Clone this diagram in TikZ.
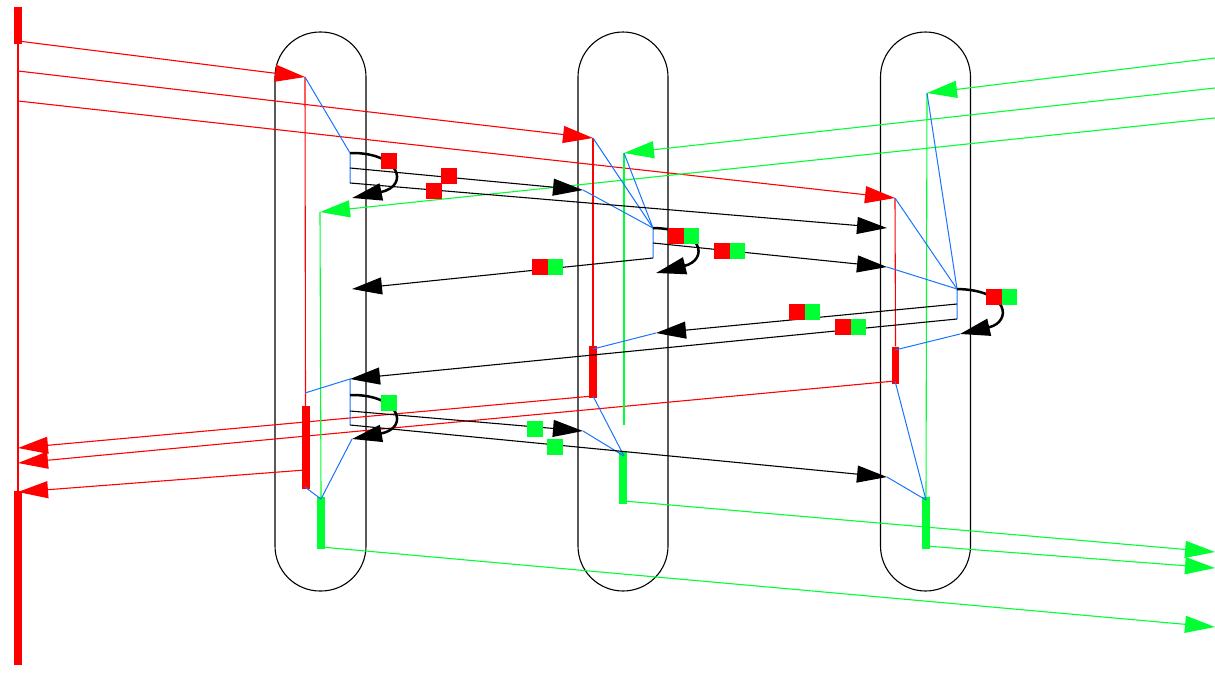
\documentclass[tikz,border=0pt]{standalone}
\usetikzlibrary{arrows.meta}
\definecolor{cred}{RGB}{255,0,0}
\definecolor{cgreen}{RGB}{0,255,51}
\definecolor{cblue}{RGB}{26,115,255}
\begin{document}
\begin{tikzpicture}[x=1pt,y=-1pt,
 arr/.style={-{Triangle[length=30pt,width=17pt]}},
 thinred/.style={cred, line width=1.1pt},
 thingreen/.style={cgreen, line width=1.1pt},
 blueline/.style={cblue, line width=1pt},
 msg/.style={black, line width=1.1pt},
 loopmsg/.style={black, line width=2.5pt},
 capsule/.style={draw=black, line width=1.1pt, rounded corners=45pt, minimum width=91pt, minimum height=559pt, inner sep=0},
 rbar/.style={fill=cred, inner sep=0, minimum width=8pt},
 gbar/.style={fill=cgreen, inner sep=0, minimum width=8pt},
 rsq/.style={fill=cred, inner sep=0, minimum size=15.5pt},
 gsq/.style={fill=cgreen, inner sep=0, minimum size=15.5pt}]
\useasboundingbox (0,0) rectangle (1215,672);

% capsules
\node[capsule] (cap1) at (320.5,311.5) {};
\node[capsule, minimum width=90pt] (cap2) at (623,311.5) {};
\node[capsule, minimum width=90pt] (cap3) at (925.5,311.5) {};

% coordinates
\coordinate (L0) at (18,8);
\coordinate (L1) at (18,665);
\coordinate (lo1) at (18,41);
\coordinate (lo2) at (18,71);
\coordinate (lo3) at (18,101);
\coordinate (li1) at (18,448);
\coordinate (li2) at (18,463);
\coordinate (li3) at (18,492);
\coordinate (gi1) at (1215,58);
\coordinate (gi2) at (1215,88);
\coordinate (gi3) at (1215,118);
\coordinate (go1) at (1215,552);
\coordinate (go2) at (1215,568);
\coordinate (go3) at (1215,627);

\coordinate (a1) at (305,77);
\coordinate (a2) at (320,212);
\coordinate (a3) at (350,153);
\coordinate (a4) at (350,168);
\coordinate (a5) at (350,183);
\coordinate (a5e) at (352,198);
\coordinate (a6) at (352,289);
\coordinate (a7) at (350,379);
\coordinate (a8) at (350,395);
\coordinate (a9) at (350,411);
\coordinate (a10) at (350,425);
\coordinate (a11) at (352,439);
\coordinate (ar1) at (305,393);
\coordinate (ar2) at (305,470);
\coordinate (ar3) at (305,487);
\coordinate (ag1) at (321,499);
\coordinate (ag2) at (321,547);

\coordinate (b1) at (593,138);
\coordinate (b2) at (624,153);
\coordinate (b2e) at (624,425);
\coordinate (b3) at (583,190);
\coordinate (b4) at (653,228);
\coordinate (b5) at (653,243);
\coordinate (b6) at (653,258);
\coordinate (b6e) at (656,273);
\coordinate (b7) at (656,333);
\coordinate (b8) at (583,431);
\coordinate (br1) at (593,349);
\coordinate (br2) at (593,396);
\coordinate (bg1) at (624,456);
\coordinate (bg2) at (624,501);

\coordinate (c1) at (895,198);
\coordinate (c2) at (927,93);
\coordinate (c4) at (887,267);
\coordinate (c3) at (887,228);
\coordinate (c5) at (957,289);
\coordinate (c6) at (957,304);
\coordinate (c7) at (957,319);
\coordinate (c8) at (960,334);
\coordinate (c9) at (887,477);
\coordinate (cr1) at (895,350);
\coordinate (cr2) at (895,381);
\coordinate (cg1) at (926,500);
\coordinate (cg2) at (926,546);

% bars
\node[rbar, minimum width=7.5pt, minimum height=37pt] (ltop) at (18,25.5) {};
\node[rbar, minimum width=7.5pt, minimum height=174pt] (lbot) at (18,578) {};
\node[rbar, minimum height=83pt] (ra) at (305.5,447.5) {};
\node[gbar, minimum height=52pt] (ga) at (321,523) {};
\node[rbar, minimum height=52pt] (rb) at (593,372) {};
\node[gbar, minimum height=52pt] (gb) at (623,478) {};
\node[rbar, minimum width=7pt, minimum height=37pt] (rc) at (895.5,365) {};
\node[gbar, minimum height=52pt] (gc) at (926,523) {};

% left lifeline
\draw[thinred] (L0) -- (L1);
\draw[thinred, arr] (lo1) -- (a1);
\draw[thinred, arr] (lo2) -- (b1);
\draw[thinred, arr] (lo3) -- (c1);
\draw[thinred, arr] (br2) -- (li1);
\draw[thinred, arr] (cr2) -- (li2);
\draw[thinred, arr] (ar2) -- (li3);

% green incoming / outgoing
\draw[thingreen, arr] (gi1) -- (c2);
\draw[thingreen, arr] (gi2) -- (b2);
\draw[thingreen, arr] (gi3) -- (a2);
\draw[thingreen, arr] (bg2) -- (go1);
\draw[thingreen, arr] (cg2) -- (go2);
\draw[thingreen, arr] (ag2) -- (go3);

% vertical thin lines
\draw[thinred] (a1) -- (ra.north);
\draw[thingreen] (a2) -- (ga.north);
\draw[thinred] (b1) -- (rb.north);
\draw[thingreen] (b2) -- (b2e);
\draw[thinred] (c1) -- (rc.north);
\draw[thingreen] (c2) -- (gc.north);

% blue lines
\draw[blueline] (a1) -- (a3) -- (a5);
\draw[blueline] (ar1) -- (a7) -- (a10);
\draw[blueline] (a11) -- (ag1);
\draw[blueline] (ar3) -- (ag1);
\draw[blueline] (b1) -- (b4);
\draw[blueline] (b2) -- (b4);
\draw[blueline] (b3) -- (b4) -- (b6);
\draw[blueline] (b7) -- (br1);
\draw[blueline] (br2) -- (bg1);
\draw[blueline] (b8) -- (bg1);
\draw[blueline] (c1) -- (c5);
\draw[blueline] (c2) -- (c5);
\draw[blueline] (c4) -- (c5) -- (c7);
\draw[blueline] (c8) -- (cr1);
\draw[blueline] (cr2) -- (cg1);
\draw[blueline] (c9) -- (cg1);

% messages
\draw[msg, arr] (a4) -- (b3);
\draw[msg, arr] (a5) -- (c3);
\draw[msg, arr] (b5) -- (c4);
\draw[msg, arr] (b6) -- (a6);
\draw[msg, arr] (c6) -- (b7);
\draw[msg, arr] (c7) -- (a7);
\draw[msg, arr] (a9) -- (b8);
\draw[msg, arr] (a10) -- (c9);

% self loops
\draw[loopmsg, arr] (a3) .. controls (400,152) and (410,186) .. (a5e);
\draw[loopmsg, arr] (b4) .. controls (705,229) and (708,260) .. (b6e);
\draw[loopmsg, arr] (c5) .. controls (1010,290) and (1012,322) .. (c8);
\draw[loopmsg, arr] (a8) .. controls (400,394) and (410,428) .. (a11);

% labels
\node[rsq] (l1) at (389,161) {};
\node[rsq] (l2) at (449,176) {};
\node[rsq] (l3) at (434,191) {};
\node[rsq] (l4r) at (539.75,267) {};
\node[gsq] (l4g) at (555.25,267) {};
\node[rsq] (l5r) at (675.75,236) {};
\node[gsq] (l5g) at (691.25,236) {};
\node[rsq] (l6r) at (721.75,251) {};
\node[gsq] (l6g) at (737.25,251) {};
\node[rsq] (l7r) at (796.75,312) {};
\node[gsq] (l7g) at (812.25,312) {};
\node[rsq] (l8r) at (842.75,327) {};
\node[gsq] (l8g) at (858.25,327) {};
\node[rsq] (l9r) at (993.75,297) {};
\node[gsq] (l9g) at (1009.25,297) {};
\node[gsq] (l10) at (389,403) {};
\node[gsq] (l11) at (535,429) {};
\node[gsq] (l12) at (555,447) {};
\end{tikzpicture}
\end{document}
